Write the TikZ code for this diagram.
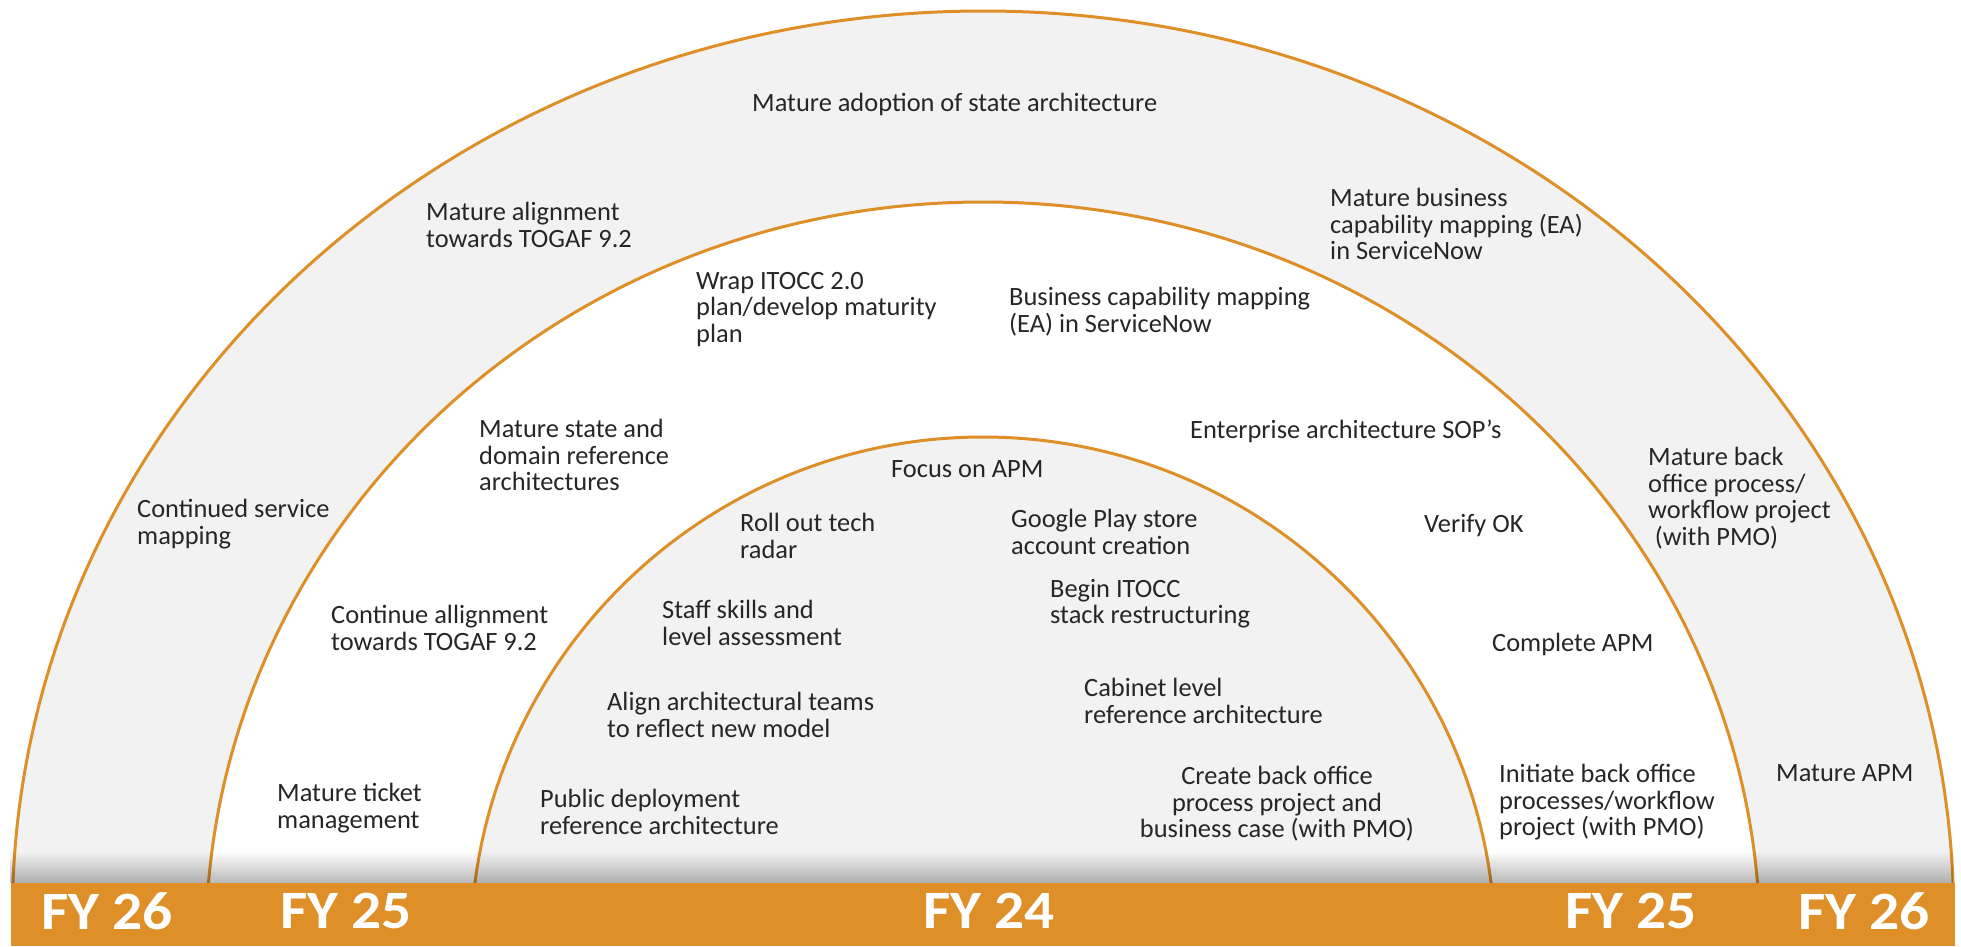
\documentclass[tikz,border=0pt]{standalone}
\usepackage{fontspec}
\setmainfont{Carlito}
\newfontfamily\yearfont[FakeStretch=1.1]{Carlito}
\usetikzlibrary{positioning,fadings}

\tikzset{
  goal/.style={anchor=north west, inner sep=0pt, align=left, text=textColour,
    font=\fontsize{26.4}{26.5}\selectfont},
  year/.style={inner sep=0pt, text=white, font=\fontsize{54}{60}\yearfont\bfseries},
  ring/.style={draw=ringLineColour, line width=3pt}
}

\begin{document}
\begin{tikzpicture}[x=1pt, y=-1pt]
\definecolor{ringLineColour}{RGB}{222, 143, 39}
\definecolor{barColour}{RGB}{222, 143, 39}
\definecolor{ringFillColour}{RGB}{242, 242, 242}
\definecolor{textColour}{RGB}{38, 38, 38}

\useasboundingbox (0,0) rectangle (1961,946);

\begin{scope}
  \clip (0,0) rectangle (1961,883);
  \fill[ringFillColour] (983,917) ellipse [x radius=970.7pt, y radius=906pt];
  \fill[white] (983,944) ellipse [x radius=777.1pt, y radius=742pt];
  \fill[ringFillColour] (983,949) ellipse [x radius=512.3pt, y radius=512pt];
  \draw[ring] (983,917) ellipse [x radius=970.7pt, y radius=906pt];
  \draw[ring] (983,944) ellipse [x radius=777.1pt, y radius=742pt];
  \draw[ring] (983,949) ellipse [x radius=512.3pt, y radius=512pt];
  \fill[black, opacity=0.28, path fading=north] (11,851) rectangle (1955,883);
\end{scope}

\fill[barColour] (11,883) rectangle (1955,946);

\node[year] (fyLeftOuter) at (107,911) {FY 26};
\node[year] (fyLeftMiddle) at (346,911) {FY 25};
\node[year] (fyInner) at (989,911) {FY 24};
\node[year] (fyRightMiddle) at (1631,911) {FY 25};
\node[year] (fyRightOuter) at (1864,911) {FY 26};

\node[goal] (adoption) at (752,93) {Mature adoption of state architecture};
\node[goal] (togafMature) at (426,202) {Mature alignment\\towards TOGAF 9.2};
\node[goal] (capabilityMature) at (1330,188) {Mature business\\capability mapping (EA)\\in ServiceNow};
\node[goal] (wrapItocc) at (696,272) {Wrap ITOCC 2.0\\plan/develop maturity\\plan};
\node[goal] (capability) at (1009,287) {Business capability mapping\\(EA) in ServiceNow};
\node[goal] (referenceArch) at (479,419) {Mature state and\\domain reference\\architectures};
\node[goal] (sop) at (1190,420) {Enterprise architecture SOP’s};
\node[goal] (focusApm) at (891,460) {Focus on APM};
\node[goal] (backOfficeMature) at (1648,447) {Mature back\\office process/\\workflow project\\\hspace*{0.25em}(with PMO)};
\node[goal] (serviceMapping) at (137,499) {Continued service\\mapping};
\node[goal] (techRadar) at (740,513) {Roll out tech\\radar};
\node[goal] (playStore) at (1011,509) {Google Play store\\account creation};
\node[goal] (verifyOk) at (1424,514) {Verify OK};
\node[goal] (togafContinue) at (331,605) {Continue allignment\\towards TOGAF 9.2};
\node[goal] (staffSkills) at (662,600) {Staff skills and\\level assessment};
\node[goal] (itoccStack) at (1050,579) {Begin ITOCC\\stack restructuring};
\node[goal] (completeApm) at (1492,633) {Complete APM};
\node[goal] (cabinetArch) at (1084,678) {Cabinet level\\reference architecture};
\node[goal] (alignTeams) at (607,692) {Align architectural teams\\to reflect new model};
\node[goal] (ticketMature) at (277,783) {Mature ticket\\management};
\node[goal] (publicArch) at (540,789) {Public deployment\\reference architecture};
\node[goal, anchor=north, align=center] (backOfficeCase) at (1277,766) {Create back office\\process project and\\business case (with PMO)};
\node[goal] (backOfficeInit) at (1499,764) {Initiate back office\\processes/workflow\\project (with PMO)};
\node[goal] (matureApm) at (1776,764) {Mature APM};
\end{tikzpicture}
\end{document}
